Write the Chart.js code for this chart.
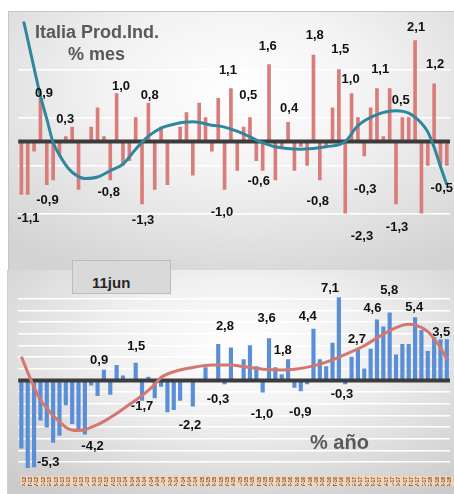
<!DOCTYPE html>
<html>
<head>
<meta charset="utf-8">
<script src="https://cdn.jsdelivr.net/npm/chart.js@4.4.1/dist/chart.umd.min.js"></script>
<style>
  html, body { margin: 0; padding: 0; background: #ffffff; width: 454px; height: 494px; overflow: hidden;
    font-family: "Liberation Sans", Arial, sans-serif; }
  .panel { position: absolute; box-sizing: border-box; }
  #panelMes { left: 8px; top: 11px; width: 446px; height: 259px;
    border-top: 1px solid #c6c6c6; border-left: 1px solid #c6c6c6;
    background: radial-gradient(ellipse 75% 80% at 52% 30%, #ffffff 0%, #f3f3f3 40%, #d3d3d3 100%); }
  #panelAno { left: 7px; top: 270px; width: 447px; height: 224px;
    border-left: 1px solid #cfcfcf;
    background: radial-gradient(ellipse 75% 80% at 52% 35%, #ffffff 0%, #f0f0f0 40%, #cbcbcb 100%); }
  canvas { position: absolute; left: 0; top: 0; }
  .txt { position: absolute; white-space: nowrap; font-weight: bold; color: #595959; }
  #titulo { left: 35px; top: 22px; font-size: 18px; line-height: 20px; }
  #mes { left: 68px; top: 44px; font-size: 18px; line-height: 20px; }
  #ano { left: 310px; top: 430px; font-size: 20px; line-height: 24px; }
  #fecha { position: absolute; left: 72px; top: 260px; width: 99px; height: 34px; box-sizing: border-box;
    background: #d9d9d9; border: 1px solid #bdbdbd; }
  #fechaTxt { left: 92px; top: 274px; font-size: 15px; line-height: 18px; color: #262626; }
</style>
</head>
<body>
<div id="panelMes" class="panel"></div>
<div id="panelAno" class="panel"></div>
<canvas id="cMes" width="446" height="259" style="left:8px;top:11px"></canvas>
<canvas id="cAno" width="447" height="224" style="left:7px;top:270px"></canvas>
<div id="titulo" class="txt">Italia Prod.Ind.</div>
<div id="mes" class="txt">% mes</div>
<div id="fecha"></div>
<div id="fechaTxt" class="txt">11jun</div>
<div id="ano" class="txt">% año</div>

<script>
// Months on the category axis (both panels share them)
const months = [
  'SEP-12','OCT-12','NOV-12','DIC-12',
  'ENE-13','FEB-13','MAR-13','ABR-13','MAY-13','JUN-13','JUL-13','AGO-13','SEP-13','OCT-13','NOV-13','DIC-13',
  'ENE-14','FEB-14','MAR-14','ABR-14','MAY-14','JUN-14','JUL-14','AGO-14','SEP-14','OCT-14','NOV-14','DIC-14',
  'ENE-15','FEB-15','MAR-15','ABR-15','MAY-15','JUN-15','JUL-15','AGO-15','SEP-15','OCT-15','NOV-15','DIC-15',
  'ENE-16','FEB-16','MAR-16','ABR-16','MAY-16','JUN-16','JUL-16','AGO-16','SEP-16','OCT-16','NOV-16','DIC-16',
  'ENE-17','FEB-17','MAR-17','ABR-17','MAY-17','JUN-17','JUL-17','AGO-17','SEP-17','OCT-17','NOV-17','DIC-17',
  'ENE-18','FEB-18','MAR-18','ABR-18'
];

// Monthly change, %
const mesValues = [
  -1.1, -1.1, -0.2,  0.9, -0.9, -0.8, -0.3,  0.1,  0.3, -1.0,
   0.0,  0.3,  0.7,  0.1, -0.8,  1.0, -0.5, -0.4,  0.5, -1.3,
   0.8, -1.0,  0.3, -0.9,  0.0,  0.3,  0.6, -0.7,  0.8,  0.5,
  -0.2,  0.9, -1.0,  1.1, -0.6,  0.3,  0.5, -0.4, -0.6,  1.6,
  -0.8, -0.1,  0.4, -0.6, -0.1, -0.5,  1.8, -0.8, -0.1,  0.7,
   1.5, -2.3,  1.0,  0.5, -0.3,  0.7,  1.1,  0.1,  1.1, -1.3,
   0.5,  0.5,  2.1, -1.6, -0.5,  1.2, -0.5, -0.5
];

// Year-on-year change, %
const anoValues = [
  -5.8, -7.7, -7.4, -3.4, -4.0, -5.3, -4.7, -2.1, -3.7, -4.2,
  -4.6, -0.4, -1.3,  0.9, -1.2,  1.3,  0.4, -0.1,  1.5, -1.7,
   0.3, -1.5, -0.5, -2.7, -2.5, -1.7, -0.1, -2.2, -0.1,  1.1,
   0.1,  3.1, -0.3,  2.8,  0.1,  1.8,  3.0,  1.2, -1.0,  3.6,
   1.1,  0.5,  1.8, -0.6, -0.9, -0.3,  4.4,  1.8,  1.2,  3.2,
   7.1, -0.3,  2.0,  2.7,  1.0,  2.7,  5.2,  4.6,  5.8,  2.2,
   3.1,  3.1,  5.4,  4.3,  2.5,  3.7,  3.5,  3.5
];

// Trend curves: months where the curve was read, and its level there
const mesTrendMonths = ['SEP-12','NOV-12','DIC-12','ENE-13','FEB-13','MAR-13','ABR-13','MAY-13','JUL-13','SEP-13',
  'NOV-13','ENE-14','MAR-14','MAY-14','JUL-14','SEP-14','DIC-14','MAR-15','MAY-15','AGO-15','OCT-15','ENE-16',
  'MAY-16','SEP-16','DIC-16','FEB-17','MAY-17','AGO-17','OCT-17','DIC-17','ENE-18','FEB-18','MAR-18','ABR-18'];
const mesTrendValues = [2.72, 1.53, 0.95, 0.47, -0.02, -0.28, -0.49, -0.64, -0.77, -0.74,
  -0.61, -0.47, -0.16, 0.11, 0.28, 0.36, 0.41, 0.34, 0.30, 0.16, 0.03, -0.11,
  -0.16, -0.11, 0.0, 0.33, 0.56, 0.64, 0.59, 0.38, 0.20, -0.12, -0.52, -0.90];

const anoTrendMonths = ['SEP-12','OCT-12','NOV-12','DIC-12','ENE-13','FEB-13','MAR-13','ABR-13','MAY-13','JUN-13',
  'JUL-13','AGO-13','SEP-13','OCT-13','DIC-13','FEB-14','MAR-14','MAY-14','JUN-14','JUL-14','SEP-14','DIC-14',
  'MAR-15','JUN-15','AGO-15','NOV-15','FEB-16','ABR-16','JUL-16','SEP-16','DIC-16','MAR-17','MAY-17','AGO-17',
  'OCT-17','NOV-17','ENE-18','FEB-18','MAR-18','ABR-18'];
const anoTrendValues = [2.04, 0.70, -0.56, -1.67, -2.35, -3.03, -3.53, -4.0, -4.24, -4.28,
  -4.22, -4.0, -3.78, -3.5, -2.83, -2.06, -1.69, -0.84, -0.33, 0.25, 0.75, 1.12,
  1.33, 1.32, 1.18, 0.97, 0.90, 0.96, 1.25, 1.58, 2.24, 2.98, 3.65, 4.53,
  4.82, 4.76, 4.18, 3.56, 2.80, 1.80];

// Gridline levels
const mesTicks = [-1.5, -0.5, 0, 0.5, 1.5];
const anoTicks = [-7, -6, -5, -4, -3, -2, -1, 0, 1, 2, 3, 4, 5, 6, 7];

// Which bars carry a value label, and how far the label sits from the bar end [index, dx, dy]
const mesLabelSpots = [
  [0, 7, 23], [3, 3.6, -6], [4, 0.7, 14.6], [8, -7, -8.6], [14, -1.6, 11.8], [15, 4.4, -8.2],
  [19, 1, 15], [20, 1.3, -9], [32, -2.6, 21.5], [33, -3, -19], [36, -1.7, -23], [38, -4, 9.7],
  [39, -1.3, -19.7], [42, 1, -14.6], [46, 1.3, -20.8], [47, -2, 20], [50, 1.4, -21.2], [51, 16.7, -17],
  [52, -1, -15.2], [54, 1, 32.4], [56, 3.2, -20.4], [59, 1, 22.8], [60, -1.6, -18.3], [62, 1, -14.7],
  [65, 1, -20.6], [67, -5, 22]
];
const anoLabelSpots = [
  [5, -4.9, 19.3], [9, 14, 16.2], [13, -4.8, -11], [18, 0.5, -18], [19, 0, 5.4], [27, -2.9, 18.1],
  [32, -6.6, 14.3], [33, -6, -22.8], [38, -0.7, 21.1], [39, -2.4, -20.8], [42, -5.3, -10.2],
  [44, -0.5, 20.7], [46, -5.7, -14.2], [50, -8.9, -9.9], [51, -3.3, 9.3], [53, -1, -10.7],
  [57, -10.9, -19.1], [58, -0.5, -23.5], [62, -0.9, -10.8], [66, 0.7, -8]
];

const fontFamily = '"Liberation Sans", Arial, sans-serif';

// Thick zero line, drawn over the bars but under the trend curve
const zeroLine = {
  id: 'zeroLine',
  afterDatasetDraw(chart, args, opts) {
    if (args.meta.type !== 'bar') return;
    const { ctx, chartArea } = chart;
    const y = chart.scales.y.getPixelForValue(0);
    ctx.save();
    ctx.strokeStyle = opts.color;
    ctx.lineWidth = opts.width;
    ctx.beginPath();
    ctx.moveTo(chartArea.left, y);
    ctx.lineTo(chartArea.right, y);
    ctx.stroke();
    ctx.restore();
  }
};

// Value labels written next to selected bars
const valueLabels = {
  id: 'valueLabels',
  afterDraw(chart, args, opts) {
    const { ctx } = chart;
    const ds = chart.data.datasets[opts.datasetIndex];
    const meta = chart.getDatasetMeta(opts.datasetIndex);
    const yScale = chart.scales.y;
    ctx.save();
    ctx.font = 'bold 13px ' + fontFamily;
    ctx.fillStyle = '#111111';
    ctx.textAlign = 'center';
    ctx.textBaseline = 'alphabetic';
    opts.spots.forEach(([i, dx, dy]) => {
      const v = ds.data[i];
      const x = meta.data[i].x + dx;
      const y = yScale.getPixelForValue(v) + dy;
      ctx.fillText(v.toFixed(1).replace('.', ','), x, y + 4.6);
    });
    ctx.restore();
  }
};

function trendPoints(labels, values) {
  return labels.map((m, k) => ({ x: m, y: values[k] }));
}

function gridColor(c) {
  return c.tick.value === 0 ? 'rgba(0,0,0,0)' : '#ffffff';
}

new Chart(document.getElementById('cMes'), {
  type: 'bar',
  data: {
    labels: months,
    datasets: [
      {
        type: 'line', data: trendPoints(mesTrendMonths, mesTrendValues),
        borderColor: '#2f879d', borderWidth: 3, pointRadius: 0,
        cubicInterpolationMode: 'monotone', order: 0
      },
      {
        type: 'bar', data: mesValues, backgroundColor: '#d97d7a',
        barThickness: 3, order: 1
      }
    ]
  },
  options: {
    responsive: false, animation: false, devicePixelRatio: 1,
    layout: { padding: { left: 10.2, right: 4, top: 10.5, bottom: 56.5 } },
    plugins: {
      legend: { display: false }, tooltip: { enabled: false },
      zeroLine: { color: '#3c3c3c', width: 4 },
      valueLabels: { datasetIndex: 1, spots: mesLabelSpots }
    },
    scales: {
      x: { display: false, offset: true },
      y: {
        min: -1.5, max: 2.5,
        afterBuildTicks: (s) => { s.ticks = mesTicks.map(v => ({ value: v })); },
        ticks: { display: false },
        border: { display: false },
        grid: { color: gridColor, lineWidth: 1.6, drawTicks: false }
      }
    }
  },
  plugins: [zeroLine, valueLabels]
});

new Chart(document.getElementById('cAno'), {
  type: 'bar',
  data: {
    labels: months,
    datasets: [
      {
        type: 'line', data: trendPoints(anoTrendMonths, anoTrendValues),
        borderColor: '#d4776f', borderWidth: 3, pointRadius: 0,
        cubicInterpolationMode: 'monotone', order: 0
      },
      {
        type: 'bar', data: anoValues, backgroundColor: '#5a8fd7',
        barThickness: 3.5, order: 1
      }
    ]
  },
  options: {
    responsive: false, animation: false, devicePixelRatio: 1,
    layout: { padding: { left: 11.2, right: 4, top: 25.3, bottom: 8 } },
    plugins: {
      legend: { display: false }, tooltip: { enabled: false },
      zeroLine: { color: '#3c3c3c', width: 4 },
      valueLabels: { datasetIndex: 1, spots: anoLabelSpots }
    },
    scales: {
      x: {
        offset: true,
        grid: { display: false },
        border: { display: false },
        afterFit: (s) => { s.height = 18; },
        ticks: {
          autoSkip: false, minRotation: 90, maxRotation: 90, padding: 1,
          font: { size: 5, weight: 'bold', family: fontFamily }, color: '#555555',
          showLabelBackdrop: true, backdropColor: '#fad2ae', backdropPadding: { x: 1, y: 0.6 }
        }
      },
      y: {
        min: -7.5, max: 7.3,
        afterBuildTicks: (s) => { s.ticks = anoTicks.map(v => ({ value: v })); },
        ticks: { display: false },
        border: { display: false },
        grid: { color: gridColor, lineWidth: 1.6, drawTicks: false }
      }
    }
  },
  plugins: [zeroLine, valueLabels]
});
</script>
</body>
</html>
